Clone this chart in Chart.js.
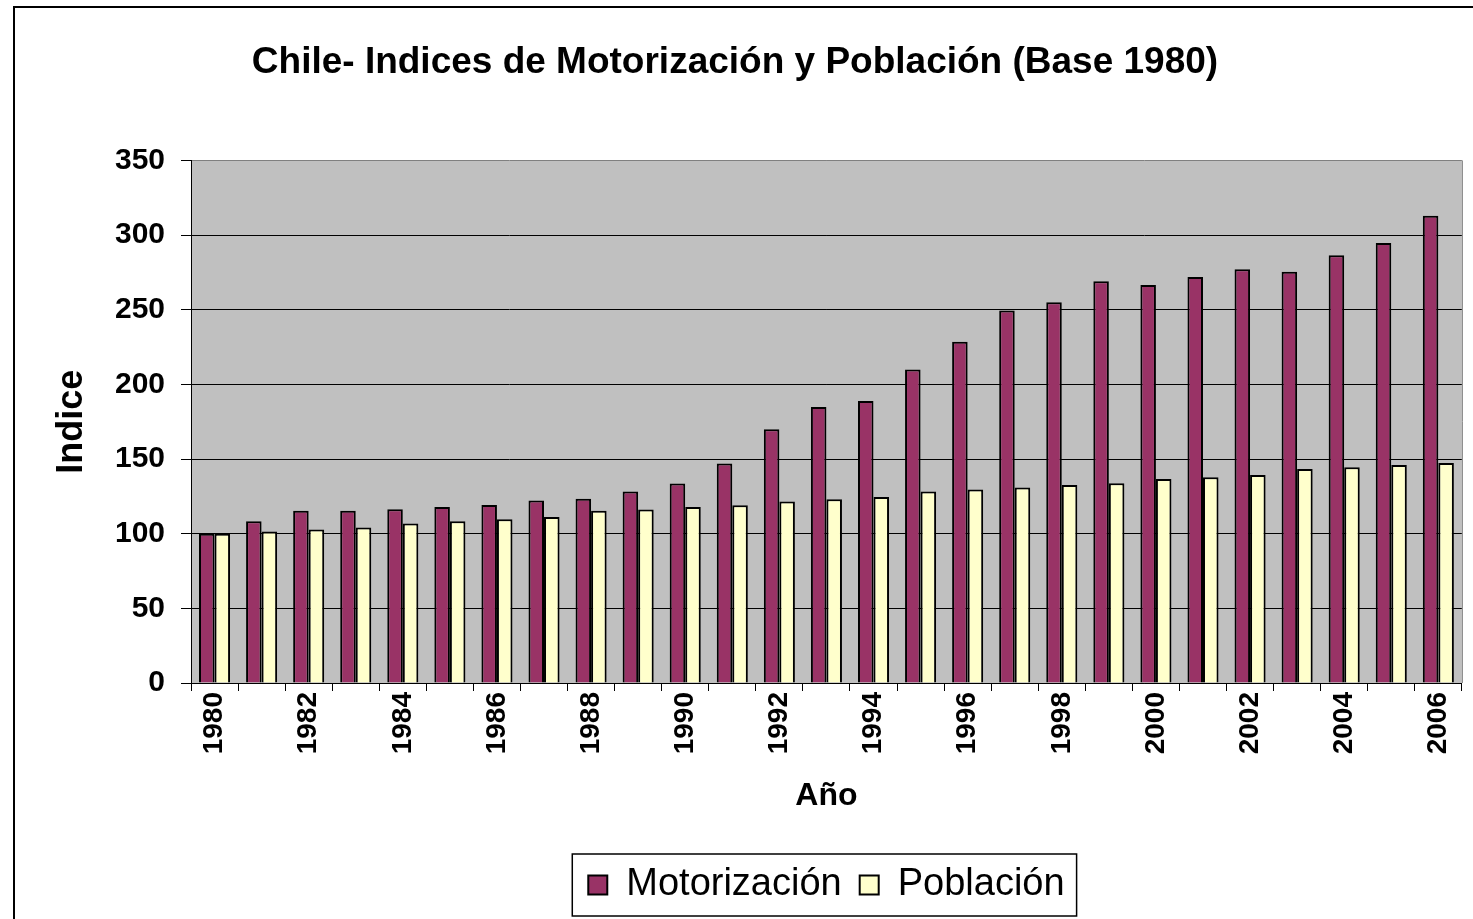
<!DOCTYPE html>
<html>
<head>
<meta charset="utf-8">
<script src="https://cdn.jsdelivr.net/npm/chart.js@4.4.1/dist/chart.umd.min.js"></script>
<style>
    body { margin: 0; background: #fff; }
    canvas { display: block; }
</style>
</head>
<body>
<canvas id="motorChart" width="1473" height="919"></canvas>
<script>
const years = ['1980', '1981', '1982', '1983', '1984', '1985', '1986', '1987', '1988', '1989',
    '1990', '1991', '1992', '1993', '1994', '1995', '1996', '1997', '1998', '1999',
    '2000', '2001', '2002', '2003', '2004', '2005', '2006'];
const motorizacion = [100, 108.3, 115.3, 115.3, 116.4, 117.8, 119.2, 122.2, 123.4, 128.3,
    133.6, 147, 170, 184.8, 188.8, 210, 228.5, 249.5, 255, 269,
    266.6, 271.9, 277.1, 275.4, 286.4, 294.6, 313];
const poblacion = [100, 101.4, 102.8, 104.2, 106.9, 108.3, 109.7, 111.1, 115.3, 116.2,
    117.8, 119.1, 121.6, 123.1, 124.5, 128.3, 129.6, 131, 132.6, 133.8,
    136.6, 137.8, 139.3, 143.3, 144.5, 146, 147.4];
const shownYears = ['1980', '1982', '1984', '1986', '1988', '1990', '1992', '1994',
    '1996', '1998', '2000', '2002', '2004', '2006'];

const FONT = "'Liberation Sans', Arial, sans-serif";

// gray plot background, gray top/right edge, outer frame and legend frame
const excelLook = {
    id: 'excelLook',
    beforeDraw(chart) {
        const { ctx, chartArea: a } = chart;
        ctx.save();
        ctx.fillStyle = '#c0c0c0';
        ctx.fillRect(a.left, a.top, a.right - a.left, a.bottom - a.top);
        ctx.restore();
    },
    afterDraw(chart) {
        const { ctx, chartArea: a } = chart;
        ctx.save();
        ctx.strokeStyle = '#808080';
        ctx.lineWidth = 1;
        ctx.beginPath();
        ctx.moveTo(a.right + 0.5, a.top);
        ctx.lineTo(a.right + 0.5, a.bottom);
        ctx.stroke();

        ctx.strokeStyle = '#000';
        ctx.lineWidth = 2;
        ctx.strokeRect(14, 7, 1480, 940);

        const boxes = chart.legend.legendHitBoxes;
        if (boxes && boxes.length) {
            const first = boxes[0];
            const last = boxes[boxes.length - 1];
            const x0 = first.left - 16;
            const x1 = last.left + last.width + 12;
            const y0 = first.top - 12;
            const y1 = first.top + first.height + 12;
            ctx.lineWidth = 1.5;
            ctx.strokeRect(x0, y0, x1 - x0, y1 - y0);
        }
        ctx.restore();
    }
};

const ctxMotor = document.getElementById('motorChart').getContext('2d');
const motorChart = new Chart(ctxMotor, {
    type: 'bar',
    data: {
        labels: years,
        datasets: [{
            label: 'Motorización',
            data: motorizacion,
            backgroundColor: '#993366',
            borderColor: '#000',
            borderWidth: 2
        }, {
            label: 'Población',
            data: poblacion,
            backgroundColor: '#ffffcc',
            borderColor: '#000',
            borderWidth: 2
        }]
    },
    options: {
        responsive: false,
        animation: false,
        layout: {
            padding: { left: 0, right: 3, top: 0, bottom: 5 }
        },
        datasets: {
            bar: {
                barPercentage: 1,
                categoryPercentage: 0.66
            }
        },
        scales: {
            x: {
                afterFit: function (scale) { scale.height = 165; },
                grid: {
                    offset: true,
                    drawOnChartArea: false,
                    drawTicks: true,
                    tickLength: 8,
                    color: '#000'
                },
                border: { display: true, color: '#000', width: 1 },
                ticks: {
                    autoSkip: false,
                    minRotation: 90,
                    maxRotation: 90,
                    padding: 1,
                    color: '#000',
                    font: { family: FONT, size: 28, weight: 'bold' },
                    callback: function (value) {
                        const label = this.getLabelForValue(value);
                        return shownYears.includes(label) ? label : '';
                    }
                },
                title: {
                    display: true,
                    text: 'Año',
                    color: '#000',
                    font: { family: FONT, size: 32, weight: 'bold' },
                    padding: { top: 0, bottom: 33 }
                }
            },
            y: {
                min: 0,
                max: 350,
                afterFit: function (scale) { scale.width = 191; },
                grid: {
                    color: function (c) { return c.tick && c.tick.value === 350 ? '#808080' : '#000'; },
                    tickColor: '#000',
                    tickLength: 10,
                    lineWidth: 1
                },
                border: { display: true, color: '#000', width: 1 },
                ticks: {
                    stepSize: 50,
                    padding: 16,
                    color: '#000',
                    font: { family: FONT, size: 30, weight: 'bold' }
                },
                title: {
                    display: true,
                    text: 'Indice',
                    color: '#000',
                    font: { family: FONT, size: 36, weight: 'bold' },
                    padding: { top: 50, bottom: 0 }
                }
            }
        },
        plugins: {
            title: {
                display: true,
                text: 'Chile- Indices de Motorización y Población (Base 1980)',
                color: '#000',
                font: { family: FONT, size: 37, weight: 'bold' },
                padding: { top: 41, bottom: 75 }
            },
            legend: {
                position: 'bottom',
                fullSize: false,
                labels: {
                    color: '#000',
                    boxWidth: 19,
                    boxHeight: 19,
                    padding: 18,
                    font: { family: FONT, size: 38 }
                }
            },
            tooltip: { enabled: false }
        }
    },
    plugins: [excelLook]
});
</script>
</body>
</html>
